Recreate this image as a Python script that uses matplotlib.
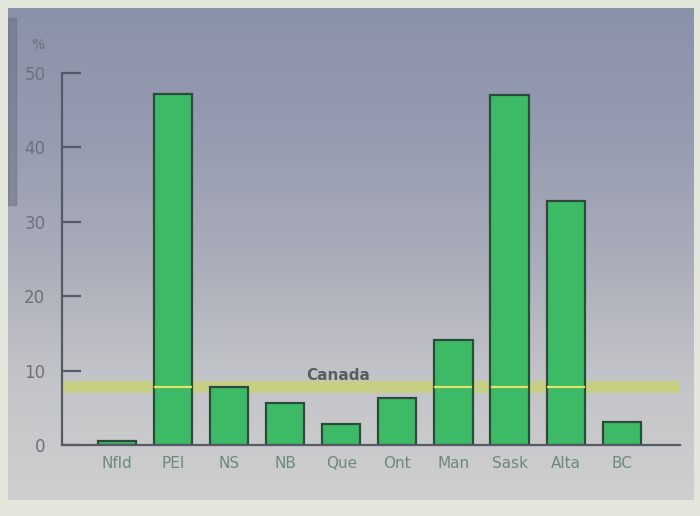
import numpy as np
import matplotlib.pyplot as plt
from matplotlib.colors import LinearSegmentedColormap

provinces = ["Nfld", "PEI", "NS", "NB", "Que", "Ont", "Man", "Sask", "Alta", "BC"]
shares = [0.5, 47.2, 7.8, 5.6, 2.8, 6.3, 14.1, 47.0, 32.8, 3.1]
canada = 7.8
yticks = [0, 10, 20, 30, 40, 50]

fig = plt.figure(figsize=(7, 5.16), dpi=100)
fig.patch.set_facecolor("#e3e6da")

# backdrop panel with the vertical blue-grey to light-grey wash
bg = fig.add_axes([0.0114, 0.031, 0.979, 0.953])
grad = np.linspace(0, 1, 256).reshape(-1, 1)
wash = LinearSegmentedColormap.from_list(
    "wash", ["#8a92aa", "#959bb0", "#a9acb9", "#c3c4c8", "#cfcfcf"])
bg.imshow(grad, cmap=wash, aspect="auto", extent=[0, 1, 0, 1], origin="upper")
bg.set_axis_off()
# dark strip down the left edge
bg.axvspan(0, 0.012, ymin=0.6, ymax=0.98, color="#6a7080", alpha=0.5)

ax = fig.add_axes([62 / 700, 71 / 516, 618 / 700, 372 / 516])
ax.set_facecolor("none")
x = np.arange(len(provinces))

ax.axhline(canada, color="#c9d36f", lw=8.5, alpha=0.75, zorder=1)
ax.bar(x, shares, width=0.68, color="#3dba66", edgecolor="#2d4a3c",
       linewidth=1.6, zorder=2)
for xi, v in zip(x, shares):
    if v > canada:
        ax.plot([xi - 0.32, xi + 0.32], [canada, canada], color="#dfe36a",
                lw=1.6, zorder=3)
ax.text(3.94, 9.3, "Canada", ha="center", va="center",
        fontsize=11, fontweight="bold", color="#595d62")

ax.set_xlim(-0.98, 10.04)
ax.set_ylim(0, 50)
ax.set_xticks(x, provinces)
ax.set_yticks(yticks)
ax.tick_params(axis="x", length=0, pad=8, labelsize=11, labelcolor="#6f887d")
ax.tick_params(axis="y", direction="in", length=14, width=1.6, color="#555b66",
               pad=12, labelsize=12, labelcolor="#6c7179")
for s in ["top", "right"]:
    ax.spines[s].set_visible(False)
ax.spines["left"].set_color("#555b66")
ax.spines["left"].set_linewidth(1.6)
ax.spines["bottom"].set_color("#555b66")
ax.spines["bottom"].set_linewidth(1.6)
ax.spines["left"].set_bounds(0, 50)
fig.text(38 / 700, 1 - 45 / 516, "%", fontsize=10, color="#6c7179",
         ha="center", va="center")

fig.savefig("out.png", dpi=100, facecolor=fig.get_facecolor())
